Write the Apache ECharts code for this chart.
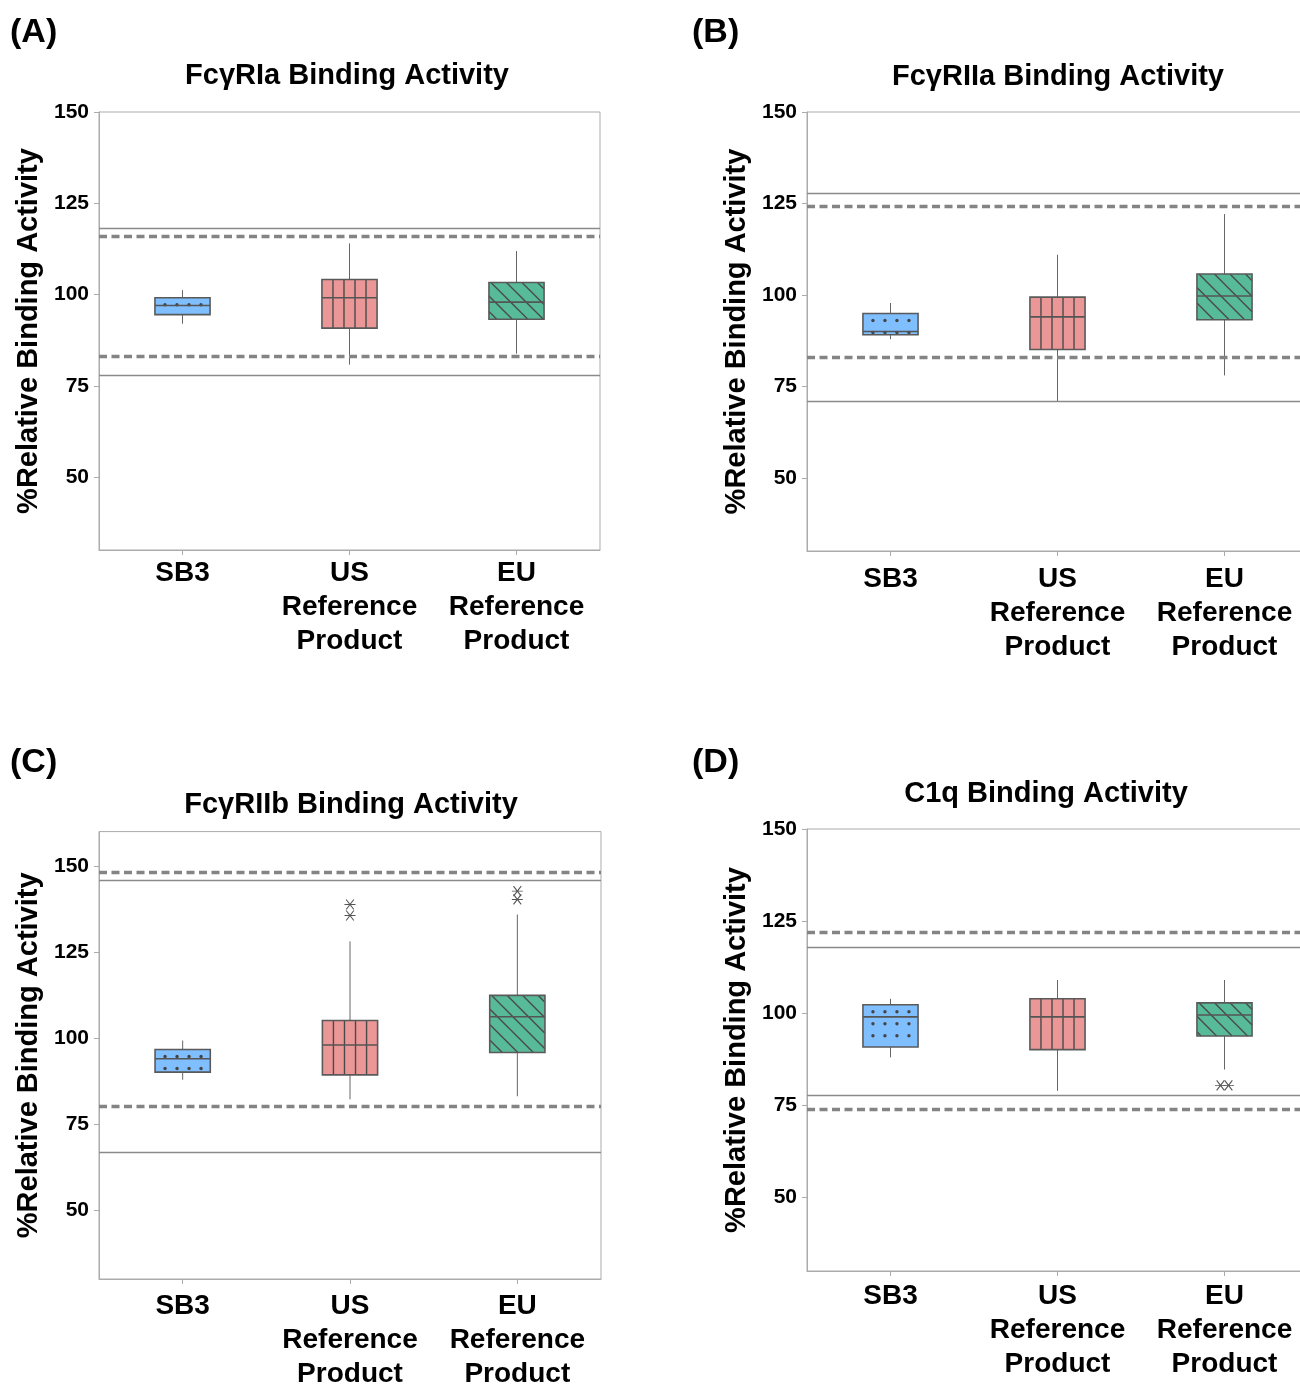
<!DOCTYPE html>
<html>
<head>
<meta charset="utf-8">
<script src="https://cdn.jsdelivr.net/npm/echarts@6/dist/echarts.min.js"></script>
<style>
html,body{margin:0;padding:0;background:#fff;}
#c{width:1300px;height:1385px;}
</style>
</head>
<body>
<div id="c"></div>
<script>
// ---------------- DATA ----------------
const categories = ['SB3', 'US\nReference\nProduct', 'EU\nReference\nProduct'];
const tickValues = [50, 75, 100, 125, 150];
const panelLetters = ['(A)', '(B)', '(C)', '(D)'];
const panelTitles = ['FcγRIa Binding Activity', 'FcγRIIa Binding Activity', 'FcγRIIb Binding Activity', 'C1q Binding Activity'];
const yAxisName = '%Relative Binding Activity';
const yMins = [30, 30, 30, 30];
const yMaxs = [150, 150, 160, 150];

// box statistics per category: [lower whisker, Q1, median, Q3, upper whisker]
const boxA = [[92.0, 94.5, 97.0, 99.1, 101.2], [80.8, 90.8, 99.1, 104.1, 114.0], [83.8, 93.2, 97.9, 103.3, 111.9]];
const boxB = [[87.9, 89.1, 90.0, 94.9, 97.8], [71.0, 85.1, 94.0, 99.4, 111.0], [78.0, 93.2, 99.7, 105.7, 122.1]];
const boxC = [[87.9, 90.1, 94.0, 96.7, 99.3], [82.2, 89.3, 98.0, 105.1, 128.1], [83.1, 95.8, 106.2, 112.4, 135.9]];
const boxD = [[88.0, 90.8, 99.0, 102.3, 103.9], [78.9, 90.1, 99.0, 103.9, 109.0], [84.7, 93.8, 99.5, 102.8, 109.0]];

// reference limits [lower, upper]
const solidA = [78.0, 118.1], dashedA = [83.0, 116.0];
const solidB = [71.0, 127.8], dashedB = [83.0, 124.2];
const solidC = [66.9, 146.0], dashedC = [80.1, 148.3];
const solidD = [77.8, 117.8], dashedD = [73.8, 122.0];

// outliers [category index, value]
const outliersA = [];
const outliersB = [];
const outliersC = [[1, 138.8], [1, 135.6], [2, 142.7], [2, 140.3]];
const outliersD = [[2, 80.4], [2, 80.4]];

// ---------------- STYLE / LAYOUT ----------------
const FONT = "'Liberation Sans', Arial, Helvetica, sans-serif";
const FILLS = ['#80BFFF', '#EC9797', '#57BB9A'];
const PATTERNS = ['dots', 'vlines', 'diag'];
const BOX_FRAC = 0.33;
const grids = [
  {left: 99, top: 112, width: 501, height: 438},
  {left: 807, top: 112, width: 501, height: 439},
  {left: 99, top: 831.6, width: 502, height: 447.4},
  {left: 807, top: 829, width: 501, height: 442}
];
const xLabelMargins = [6, 11, 10, 8];
const letterPos = [[10, 16], [692, 16], [10, 746], [692, 746]];
const titlePos = [[347, 61], [1058, 62], [351, 790], [1046, 779]];
// outlier horizontal offsets (px) so coincident points are visible side by side
const outlierOffsetsD = [[-4, 0], [4, 0]];

const boxes = [boxA, boxB, boxC, boxD];
const solids = [solidA, solidB, solidC, solidD];
const dasheds = [dashedA, dashedB, dashedC, dashedD];
const outliers = [outliersA, outliersB, outliersC, outliersD];
const outlierOffsets = [[], [], [], outlierOffsetsD];

function ln(x1, y1, x2, y2, stroke, w) {
  return {type: 'line', shape: {x1: x1, y1: y1, x2: x2, y2: y2}, style: {stroke: stroke, lineWidth: w}};
}

function renderBox(params, api) {
  const i = api.value(0);
  const pts = [1, 2, 3, 4, 5].map(function (k) { return api.coord([i, api.value(k)]); });
  const cx = pts[0][0];
  const bw = api.size([1, 0])[0] * BOX_FRAC;
  const x0 = cx - bw / 2, x1 = cx + bw / 2;
  const yLo = pts[0][1], yQ1 = pts[1][1], yMed = pts[2][1], yQ3 = pts[3][1], yHi = pts[4][1];
  const h = yQ1 - yQ3;
  const ch = [];
  ch.push(ln(cx, yHi, cx, yQ3, '#666', 1));
  ch.push(ln(cx, yQ1, cx, yLo, '#666', 1));
  ch.push({type: 'rect', shape: {x: x0, y: yQ3, width: bw, height: h}, style: {fill: FILLS[i]}});
  const pat = PATTERNS[i];
  const pc = '#4a4a4a';
  if (pat === 'dots') {
    for (let yy = 7; yy <= h - 1.5; yy += 12) {
      for (let xx = 10; xx < bw - 3; xx += 12) {
        ch.push({type: 'circle', shape: {cx: x0 + xx, cy: yQ3 + yy, r: 1.7}, style: {fill: '#444'}});
      }
    }
  } else if (pat === 'vlines') {
    for (let k = 1; k < 5; k++) {
      const xx = x0 + bw * k / 5;
      ch.push(ln(xx, yQ3, xx, yQ1, pc, 1.4));
    }
  } else if (pat === 'diag') {
    const s = 15.5;
    const c0 = x0 - yQ3 + 2;
    const kMin = Math.ceil((x0 - yQ1 - c0) / s);
    const kMax = Math.floor((x1 - yQ3 - c0) / s);
    for (let k = kMin; k <= kMax; k++) {
      const c = c0 + k * s;
      const ya = Math.max(yQ3, x0 - c), yb = Math.min(yQ1, x1 - c);
      if (yb > ya) ch.push(ln(ya + c, ya, yb + c, yb, pc, 1.4));
    }
  }
  ch.push(ln(x0, yMed, x1, yMed, '#555', 1.6));
  ch.push({type: 'rect', shape: {x: x0, y: yQ3, width: bw, height: h}, style: {fill: 'none', stroke: '#5a5a5a', lineWidth: 1.6}});
  return {type: 'group', children: ch};
}

const ASTERISK = 'path://M0,5L10,5M1.5,0L8.5,10M8.5,0L1.5,10';

const option = {
  animation: false,
  backgroundColor: '#fff',
  title: [],
  grid: [],
  xAxis: [],
  yAxis: [],
  series: []
};

for (let p = 0; p < 4; p++) {
  option.title.push({
    text: panelLetters[p], left: letterPos[p][0], top: letterPos[p][1], padding: 0,
    textStyle: {fontFamily: FONT, fontSize: 34, fontWeight: 'bold', color: '#000', lineHeight: 34}
  });
  option.title.push({
    text: panelTitles[p], left: titlePos[p][0], top: titlePos[p][1], padding: 0, textAlign: 'center',
    textStyle: {fontFamily: FONT, fontSize: 29, fontWeight: 'bold', color: '#000', lineHeight: 29}
  });
  option.grid.push(Object.assign({
    show: true, borderColor: '#ababab', borderWidth: 1, backgroundColor: '#fff',
    containLabel: false, outerBoundsMode: 'none'
  }, grids[p]));
  option.xAxis.push({
    type: 'category', gridIndex: p, data: categories, boundaryGap: true,
    axisLine: {show: true, lineStyle: {color: '#ababab', width: 1}},
    axisTick: {show: true, alignWithLabel: true, length: 5, lineStyle: {color: '#ababab'}},
    axisLabel: {
      interval: 0, margin: xLabelMargins[p], fontFamily: FONT, fontSize: 28, fontWeight: 'bold',
      color: '#000', lineHeight: 34, align: 'center'
    },
    splitLine: {show: false}
  });
  option.yAxis.push({
    type: 'value', gridIndex: p, min: yMins[p], max: yMaxs[p],
    name: yAxisName, nameLocation: 'middle', nameGap: 56,
    nameTextStyle: {fontFamily: FONT, fontSize: 29, fontWeight: 'bold', color: '#000'},
    axisLine: {show: true, lineStyle: {color: '#ababab', width: 1}},
    axisTick: {show: true, length: 5, customValues: tickValues, lineStyle: {color: '#ababab'}},
    axisLabel: {
      customValues: tickValues, margin: 10, fontFamily: FONT, fontSize: 21, fontWeight: 'bold', color: '#000'
    },
    splitLine: {show: false}
  });
  // reference limit lines
  const solidStyle = {type: 'solid', width: 1.3, color: '#8a8a8a'};
  const dashStyle = {type: [8, 4.5], width: 3.4, color: '#848484'};
  option.series.push({
    type: 'line', xAxisIndex: p, yAxisIndex: p, data: [], z: 1, silent: true,
    markLine: {
      silent: true, symbol: ['none', 'none'], label: {show: false}, animation: false,
      data: [
        {yAxis: solids[p][0], lineStyle: solidStyle},
        {yAxis: solids[p][1], lineStyle: solidStyle},
        {yAxis: dasheds[p][0], lineStyle: dashStyle},
        {yAxis: dasheds[p][1], lineStyle: dashStyle}
      ]
    }
  });
  option.series.push({
    type: 'custom', xAxisIndex: p, yAxisIndex: p, z: 3, silent: true,
    renderItem: renderBox,
    encode: {x: 0, y: [1, 2, 3, 4, 5]},
    data: boxes[p].map(function (b, i) { return [i].concat(b); })
  });
  option.series.push({
    type: 'scatter', xAxisIndex: p, yAxisIndex: p, z: 4, silent: true,
    symbol: ASTERISK, symbolSize: [11, 10],
    itemStyle: {color: 'rgba(0,0,0,0)', borderColor: '#555', borderWidth: 1, opacity: 1},
    data: outliers[p].map(function (o, j) {
      const d = {value: o};
      if (outlierOffsets[p][j]) d.symbolOffset = outlierOffsets[p][j];
      return d;
    })
  });
}

const chart = echarts.init(document.getElementById('c'), null, {renderer: 'canvas', width: 1300, height: 1385});
chart.setOption(option);
</script>
</body>
</html>
